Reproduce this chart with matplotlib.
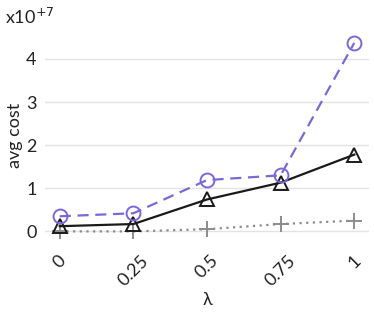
import matplotlib
matplotlib.use("Agg")
import matplotlib.pyplot as plt

plt.rcParams['font.family'] = ['Lato', 'DejaVu Sans']

lam = [0, 0.25, 0.5, 0.75, 1]
lam_labels = ['0', '0.25', '0.5', '0.75', '1']
circle_cost = [0.35, 0.42, 1.19, 1.30, 4.37]
triangle_cost = [0.12, 0.17, 0.74, 1.13, 1.78]
plus_cost = [0.0, 0.0, 0.05, 0.17, 0.25]

fig = plt.figure(figsize=(3.74, 3.12), dpi=100)
ax = fig.add_axes([45/374, 72/312, 324/374, 210/312])

ax.plot(lam, plus_cost, color='#8c8c8c', linestyle=(0, (1, 2)), linewidth=1.6,
        marker='+', markersize=11, markeredgewidth=1.4, zorder=3)
ax.plot(lam, triangle_cost, color='#1a1a1a', linestyle='-', linewidth=1.6,
        marker='^', markersize=10, markerfacecolor='none', markeredgewidth=1.4, zorder=4)
ax.plot(lam, circle_cost, color='#7b68d8', linestyle=(0, (5, 3)), linewidth=1.6,
        marker='o', markersize=10, markerfacecolor='none', markeredgewidth=1.4, zorder=5)

ax.set_xlim(-0.05, 1.05)
ax.set_ylim(-0.2, 4.67)
ax.set_yticks([0, 1, 2, 3, 4])
ax.set_yticklabels(['0', '1', '2', '3', '4'])
ax.set_xticks(lam)
ax.set_xticklabels(lam_labels, rotation=45, ha='center', va='top')
ax.tick_params(axis='both', length=0, labelsize=13, colors='#222222', pad=6)
ax.tick_params(axis='x', pad=9)
ax.grid(axis='y', color='#e3e3e3', linewidth=1)
ax.set_axisbelow(True)
for s in ax.spines.values():
    s.set_visible(False)

ax.set_xlabel('λ', fontsize=13, color='#222222', labelpad=2)
ax.set_ylabel('avg cost', fontsize=13, color='#222222', labelpad=2)
fig.text(5/374, 1 - 24/312, 'x10$^{+7}$', fontsize=13, color='#222222')

fig.savefig('out.png', dpi=100)
